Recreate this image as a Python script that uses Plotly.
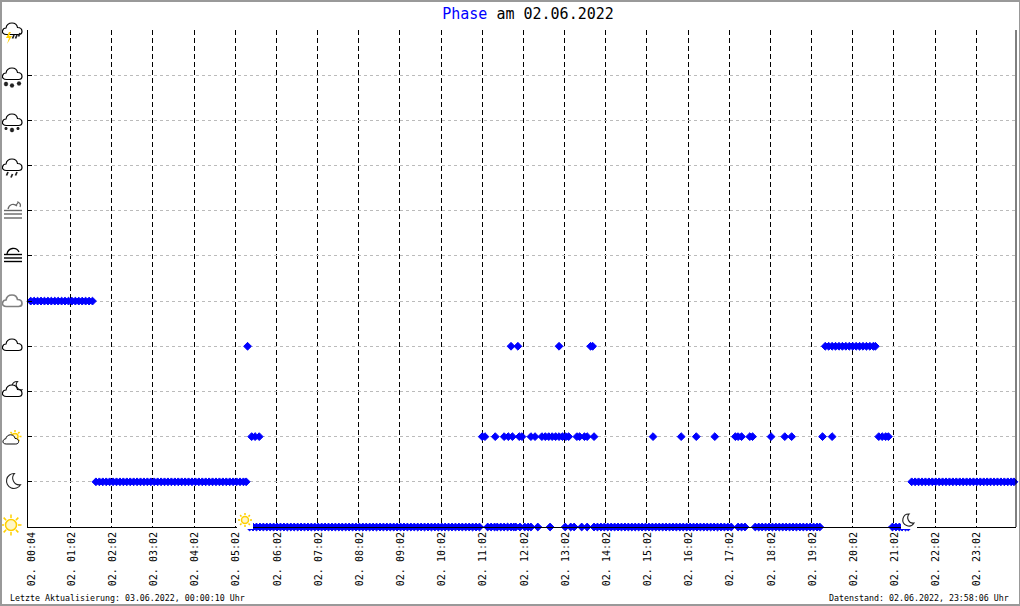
#!/usr/bin/env python
import base64
import plotly.graph_objects as go

# Minutes since midnight for each phase
phase_0_min = [323, 328, 333, 338, 343, 348, 353, 358, 363, 368, 373, 378, 383, 388, 393, 398, 403, 408, 413, 418,
               423, 428, 433, 438, 443, 448, 453, 458, 463, 468, 473, 478, 483, 488, 493, 498, 503, 508, 513, 518,
               523, 528, 533, 538, 543, 548, 553, 558, 563, 568, 573, 578, 583, 588, 593, 598, 603, 608, 613, 618,
               623, 628, 633, 638, 643, 648, 653, 658, 670, 675, 680, 684, 689, 694, 699, 704, 708, 711, 717, 724,
               729, 733, 743, 761, 783, 791, 796, 807, 815, 825, 830, 835, 840, 845, 850, 855, 860, 865, 870, 875,
               880, 885, 890, 895, 900, 905, 910, 915, 920, 925, 930, 935, 940, 945, 950, 955, 960, 965, 970, 975,
               980, 985, 990, 995, 1000, 1005, 1010, 1015, 1020, 1025, 1035, 1040, 1045, 1060, 1065, 1070, 1075,
               1080, 1085, 1090, 1095, 1100, 1105, 1110, 1115, 1120, 1125, 1130, 1135, 1140, 1145, 1150, 1154,
               1260, 1265, 1270, 1274, 1279, 1283]
phase_1_min = [99, 104, 109, 114, 119, 124, 129, 134, 139, 144, 149, 154, 159, 164, 169, 174, 179, 184, 189, 194,
               199, 204, 209, 214, 219, 224, 229, 234, 239, 244, 249, 254, 259, 264, 269, 274, 279, 284, 289, 294,
               299, 304, 309, 314, 318, 1288, 1293, 1298, 1303, 1308, 1313, 1318, 1323, 1328, 1333, 1338, 1343,
               1348, 1353, 1358, 1363, 1368, 1373, 1378, 1383, 1388, 1393, 1398, 1403, 1408, 1413, 1418, 1423,
               1428, 1433, 1437]
phase_2_min = [326, 331, 337, 662, 666, 681, 694, 700, 706, 716, 720, 733, 739, 749, 754, 759, 764, 769, 774, 779,
               784, 788, 800, 804, 811, 815, 825, 911, 952, 974, 1001, 1031, 1035, 1040, 1052, 1056, 1083, 1103,
               1113, 1158, 1172, 1240, 1245, 1250, 1254]
phase_4_min = [320, 704, 714, 774, 820, 823, 1162, 1167, 1172, 1177, 1182, 1187, 1192, 1197, 1202, 1207, 1212, 1217,
               1222, 1227, 1232, 1235]
phase_5_min = [4, 9, 14, 19, 24, 29, 34, 39, 44, 49, 54, 59, 64, 69, 74, 79, 84, 89, 94]

series = [(0, phase_0_min), (1, phase_1_min), (2, phase_2_min), (4, phase_4_min), (5, phase_5_min)]

tick_min = [4, 62, 122, 182, 242, 302, 362, 422, 482, 542, 602, 662, 722, 782, 842, 902, 962, 1022, 1082, 1142,
            1202, 1262, 1322, 1382]
tick_labels = ["02. 00:04", "02. 01:02", "02. 02:02", "02. 03:02", "02. 04:02", "02. 05:02", "02. 06:02", "02. 07:02",
               "02. 08:02", "02. 09:02", "02. 10:02", "02. 11:02", "02. 12:02", "02. 13:02", "02. 14:02", "02. 15:02",
               "02. 16:02", "02. 17:02", "02. 18:02", "02. 19:02", "02. 20:02", "02. 21:02", "02. 22:02", "02. 23:02"]

MONO = "DejaVu Sans Mono"
L, R, T, B = 28, 1016, 30, 527

CLOUD = "M6.5 17.5C3.5 17.5 2 15.8 2.5 13.8C3 12 4.5 11 6 11C6.5 8 9 6 12 6C15 6 17 7.8 17.5 10.5C20 10.5 22 12 22 14.5C22 16.5 20.5 17.5 18.5 17.5Z"


def cloud(color="#000", width=1.2):
    return f'<path d="{CLOUD}" fill="#fff" stroke="{color}" stroke-width="{width}"/>'


def star(x, y, r=2.2):
    return (f'<path d="M{x-r} {y}H{x+r}M{x} {y-r}V{y+r}M{x-r*.7} {y-r*.7}L{x+r*.7} {y+r*.7}M{x-r*.7} {y+r*.7}L{x+r*.7} {y-r*.7}" '
            f'stroke="#222" stroke-width="1.2" fill="none"/>')


def drop(x, y):
    return f'<path d="M{x} {y}l-1.5 3.5" stroke="#222" stroke-width="1.7" fill="none"/>'


def sun(cx, cy, r, rl):
    rays = ""
    for dx, dy in [(1, 0), (-1, 0), (0, 1), (0, -1), (.7, .7), (-.7, .7), (.7, -.7), (-.7, -.7)]:
        rays += f"M{cx+dx*(r+1.5)} {cy+dy*(r+1.5)}L{cx+dx*(r+rl)} {cy+dy*(r+rl)}"
    return (f'<circle cx="{cx}" cy="{cy}" r="{r}" fill="#fff6c8" stroke="#ffd000" stroke-width="1.5"/>'
            f'<path d="{rays}" stroke="#ffd000" stroke-width="1.5" fill="none"/>')


def moon(cx, cy, s, fill="#fff"):
    return (f'<path d="M{cx+.2*s} {cy-s}A{s} {s} 0 1 0 {cx+s} {cy+.5*s}A{.9*s} {.9*s} 0 0 1 {cx+.2*s} {cy-s}Z" '
            f'fill="{fill}" stroke="#222" stroke-width="1.1"/>')


def fog(color, arc, lines):
    body = f'<path d="{arc}" fill="none" stroke="{color}" stroke-width="1.3"/>'
    for y in lines:
        body += f'<path d="M4 {y}H22" stroke="{color}" stroke-width="1.4"/>'
    return body


# left edge, top edge, width, height, content of each weather symbol
icons = [
    (0, 17, 24, 30, cloud() + '<path d="M9 15l-3 6h3l-2 6 5-8h-3l2-4z" fill="#ffd000"/>' + drop(14, 18) + drop(17, 18) + drop(20, 16)),
    (0, 62, 24, 30, cloud() + star(6, 22) + star(12, 23.5) + star(19, 21.5)),
    (0, 108, 24, 30, cloud() + star(6, 20.5, 1.5) + star(12, 22) + star(18, 20.5, 1.5)),
    (0, 153, 24, 30, cloud() + drop(8, 19) + drop(12.5, 21) + drop(17, 19)),
    (0, 198, 24, 24, fog("#666", "M8 11C9 6 14 5 17 8", [12.5, 16, 20]) + '<path d="M16 7C17 6 18 6 18 4C20 5 21 7 20 9" fill="none" stroke="#666" stroke-width="1.2"/>'),
    (0, 243, 24, 24, fog("#000", "M7 11C8 5 16 3 19 9", [11.5, 15, 18.5])),
    (0, 289, 24, 24, cloud("#808080", 1.7)),
    (0, 333, 24, 24, cloud()),
    (0, 379, 24, 24, moon(16.5, 8, 5.5) + cloud()),
    (0, 426, 24, 24, sun(15, 10.5, 3, 3.5) + '<g transform="translate(1 4) scale(.8)">' + cloud() + "</g>"),
    (0, 469, 24, 24, moon(13, 12, 7.5)),
    (0, 513, 24, 24, sun(11, 12, 5.5, 5)),
]

# symbols on the axis sit on a white box that hides what is under them
axis_icons = [
    (237, 509, 16, 20, '<rect width="16" height="20" fill="#fff"/>' + sun(8, 11, 3.5, 3.5)),
    (901, 509, 16, 20, '<rect width="16" height="20" fill="#fff"/>' + moon(7, 11, 6)),
]


def make_image(left, top, w, h, body):
    svg = f'<svg xmlns="http://www.w3.org/2000/svg" width="{w}" height="{h}" viewBox="0 0 {w} {h}">{body}</svg>'
    src = "data:image/svg+xml;base64," + base64.b64encode(svg.encode()).decode()
    return dict(source=src, xref="paper", yref="paper", x=(left - L) / (R - L), y=(B - top) / (B - T),
                sizex=w / (R - L), sizey=h / (B - T), sizing="stretch", xanchor="left", yanchor="top", layer="above")


fig = go.Figure()
for level, minutes in series:
    fig.add_trace(go.Scatter(x=minutes, y=[level] * len(minutes), mode="markers", cliponaxis=False,
                             marker=dict(symbol="diamond", size=6, color="#0000ff", line=dict(color="#0000ff", width=1)),
                             showlegend=False, hoverinfo="skip"))

fig.update_layout(
    width=1020, height=606, autosize=False,
    margin=dict(l=L, r=1020 - R, t=T, b=606 - B, pad=0),
    paper_bgcolor="white", plot_bgcolor="white",
    title=dict(text='<span style="color:#0000ff">Phase</span> am 02.06.2022',
               font=dict(family=MONO, size=15, color="black"),
               x=528 / 1020, xanchor="center", y=1 - 13.5 / 606, yanchor="middle"),
    images=[make_image(*i) for i in icons + axis_icons],
)

fig.update_xaxes(range=[0, 1440], tickmode="array", tickvals=tick_min, ticktext=tick_labels, tickangle=-90,
                 ticks="", showgrid=False, zeroline=False, showline=True, linecolor="black", linewidth=1,
                 ticklabelshift=1,
                 tickfont=dict(family=MONO, size=10, color="black"),
                 minor=dict(tickmode="array", tickvals=tick_min[1:], showgrid=True, gridcolor="black", gridwidth=1,
                            griddash="5px,3px", ticks=""))
fig.update_yaxes(range=[0, 11], tickmode="array", tickvals=list(range(12)), showticklabels=False,
                 ticks="inside", ticklen=4, tickcolor="black", tickwidth=1,
                 showgrid=True, gridcolor="#bbbbbb", gridwidth=1, griddash="3px,3px", zeroline=False,
                 showline=True, linecolor="black", linewidth=1)

# right edge of the plot and grey frame round the page
fig.add_shape(type="line", xref="paper", yref="paper", x0=1, x1=1, y0=0, y1=1, line=dict(color="black", width=1))
fig.add_shape(type="rect", xref="paper", yref="paper", layer="above",
              x0=(1 - L) / (R - L), x1=(1020 - L) / (R - L), y0=(B - 605) / (B - T), y1=(B - 1) / (B - T),
              line=dict(color="#999999", width=2))

fig.add_annotation(text="Letzte Aktualisierung: 03.06.2022, 00:00:10 Uhr", xref="paper", yref="paper",
                   x=(8 - L) / (R - L), y=(B - 598) / (B - T), xanchor="left", yanchor="middle", showarrow=False,
                   font=dict(family=MONO, size=8.3, color="black"))
fig.add_annotation(text="Datenstand: 02.06.2022, 23:58:06 Uhr", xref="paper", yref="paper",
                   x=(1011 - L) / (R - L), y=(B - 598) / (B - T), xanchor="right", yanchor="middle", showarrow=False,
                   font=dict(family=MONO, size=8.3, color="black"))

# the page's default body margin would push the chart 8px off
fig.write_html("out.html", config=dict(displayModeBar=False),
               post_script="document.body.style.margin='0';document.body.style.overflow='hidden';")
